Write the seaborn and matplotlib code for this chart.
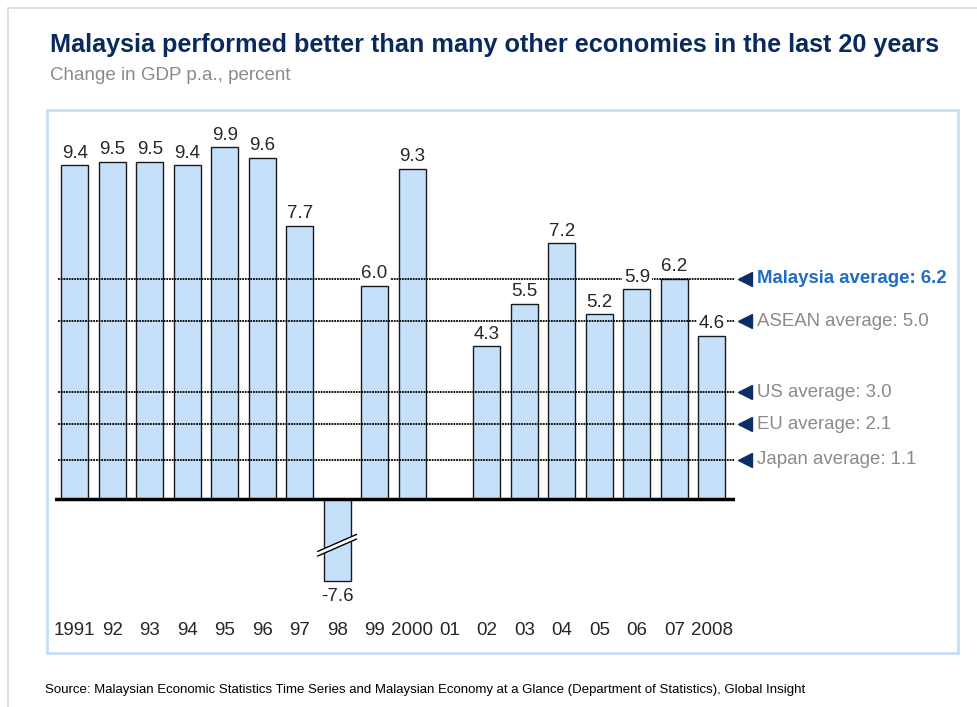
import numpy as np
import pandas as pd
import seaborn as sns
import matplotlib.pyplot as plt
import matplotlib.patches as patches
import matplotlib.transforms as mtransforms

# Dados do gráfico
anos = ["1991", "92", "93", "94", "95", "96", "97", "98", "99", "2000", "01",
        "02", "03", "04", "05", "06", "07", "2008"]
crescimento = [9.4, 9.5, 9.5, 9.4, 9.9, 9.6, 7.7, -7.6, 6.0, 9.3, np.nan,
               4.3, 5.5, 7.2, 5.2, 5.9, 6.2, 4.6]
medias_nomes = ["Malaysia average", "ASEAN average", "US average", "EU average", "Japan average"]
medias_valores = [6.2, 5.0, 3.0, 2.1, 1.1]

# Corte visual do eixo para a barra negativa
corte = -2.3
df = pd.DataFrame({"ano": anos, "valor": crescimento})
df["desenho"] = df["valor"].clip(lower=corte)

sns.set_style("white")
plt.rcParams["font.family"] = ["Liberation Sans", "DejaVu Sans"]

fig = plt.figure(figsize=(9.78, 7.07), dpi=100)
W, H = 978, 707

# Bordas de fundo
fig.add_artist(plt.Line2D([8 / W, 1], [1 - 8 / H, 1 - 8 / H], color="#d9d9d9", lw=1.2))
fig.add_artist(plt.Line2D([8 / W, 8 / W], [1 - 8 / H, 0], color="#d9d9d9", lw=1.2))
fig.add_artist(patches.Rectangle((47 / W, 1 - 653 / H), 911 / W, 543 / H,
                                 fill=False, edgecolor="#c7ddf6", lw=2))

ax = fig.add_axes([55 / W, 1 - 615 / H, 680 / W, 485 / H])

sns.barplot(data=df, x="ano", y="desenho", order=anos, color="#c7e0fa",
            saturation=1, width=0.72, edgecolor="#1a1a1a", linewidth=1, ax=ax, zorder=2)

ax.set_xlim(-0.53, 17.62)
ax.set_ylim(-3.27, 10.39)
for s in ax.spines.values():
    s.set_visible(False)
ax.set_yticks([])
ax.set_xlabel("")
ax.set_ylabel("")
ax.tick_params(axis="x", length=0, pad=5, labelsize=13.5)

# Linha do zero
ax.axhline(0, color="black", lw=2.5, zorder=4)

# Linhas das médias
trans = mtransforms.blended_transform_factory(ax.transAxes, ax.transData)
for i, (nome, v) in enumerate(zip(medias_nomes, medias_valores)):
    ax.plot([0.005, 1.0], [v, v], transform=trans, color="black", lw=1.3,
            linestyle=(0, (1, 0.5)), zorder=3)
    ax.plot([1.015], [v], transform=trans, marker="<", color="#0d2d66",
            markersize=10, clip_on=False, zorder=5)
    if i == 0:
        ax.text(1.032, v, f"{nome}: {v:.1f}", transform=trans, va="center", ha="left",
                fontsize=13.4, fontweight="bold", color="#1e6cc8", clip_on=False)
    else:
        ax.text(1.032, v, f"{nome}: {v:.1f}", transform=trans, va="center", ha="left",
                fontsize=13.4, color="#8a8a8a", clip_on=False)

# Rótulos dos valores
for i, row in df.iterrows():
    if pd.isna(row["valor"]):
        continue
    if row["valor"] >= 0:
        ax.text(i, row["desenho"] + 0.1, f"{row['valor']:.1f}", ha="center", va="bottom",
                fontsize=13.5, zorder=6,
                bbox=dict(boxstyle="square,pad=0.1", fc="white", ec="none"))
    else:
        ax.text(i, row["desenho"] - 0.22, f"{row['valor']:.1f}", ha="center", va="top",
                fontsize=13.5, zorder=6)

# Marca de quebra na barra negativa
idx = int(np.nanargmin(df["valor"].values))
yc, dx, dy, gap = -1.24, 0.52, 0.24, 0.13
ax.add_patch(patches.Polygon([[idx - dx, yc - dy], [idx + dx, yc + dy],
                              [idx + dx, yc + dy - gap], [idx - dx, yc - dy - gap]],
                             closed=True, fc="white", ec="none", zorder=5))
ax.plot([idx - dx, idx + dx], [yc - dy, yc + dy], color="black", lw=1, zorder=6)
ax.plot([idx - dx, idx + dx], [yc - dy - gap, yc + dy - gap], color="black", lw=1, zorder=6)

# Títulos
fig.text(50 / W, 1 - 45 / H, "Malaysia performed better than many other economies in the last 20 years",
         fontsize=18.2, fontweight="bold", color="#0a2a5e", va="center", ha="left")
fig.text(50 / W, 1 - 75 / H, "Change in GDP p.a., percent",
         fontsize=13.5, color="#8a8a8a", va="center", ha="left")
fig.text(45 / W, 1 - 690 / H,
         "Source: Malaysian Economic Statistics Time Series and Malaysian Economy at a Glance "
         "(Department of Statistics), Global Insight",
         fontsize=9.5, color="black", va="center", ha="left")

fig.savefig("out.png", dpi=100)
plt.close()
